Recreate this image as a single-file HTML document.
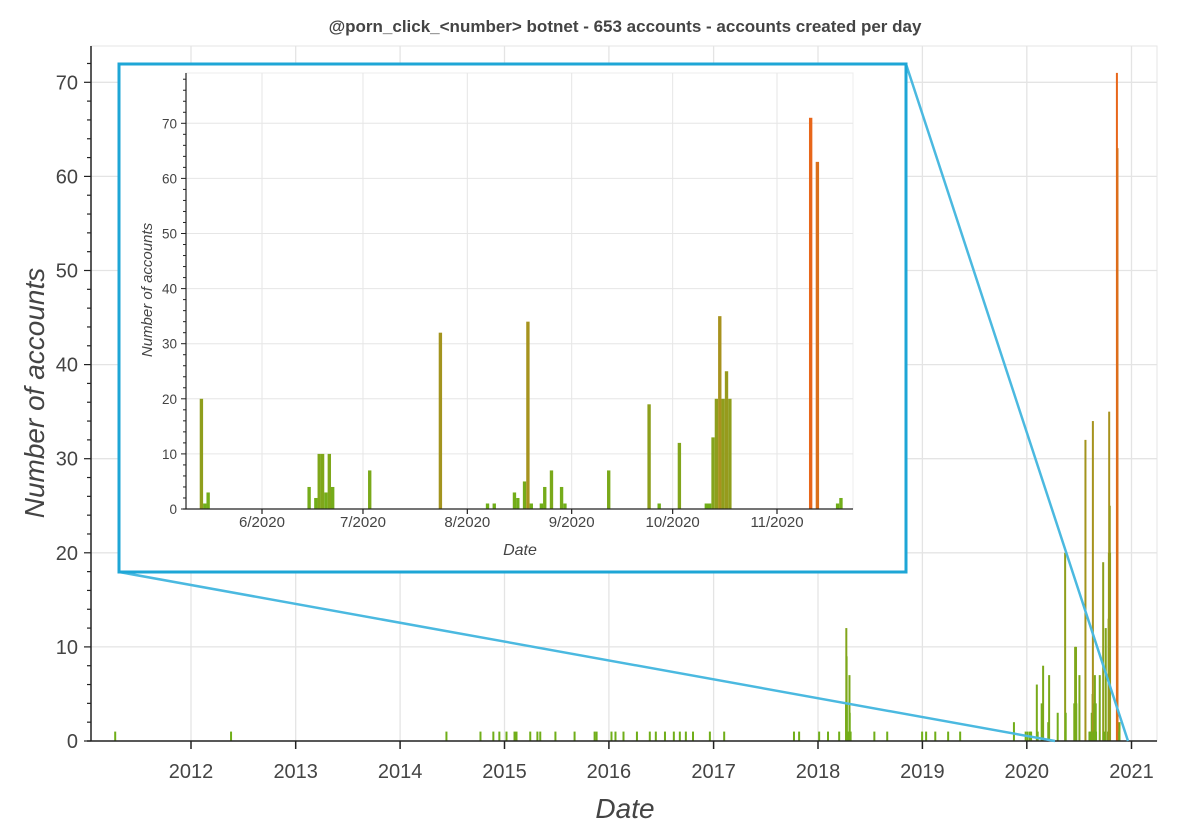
<!DOCTYPE html>
<html><head><meta charset="utf-8">
<style>
html,body{margin:0;padding:0;background:#fff;}
svg{display:block;font-family:"Liberation Sans",sans-serif;}
</style></head>
<body>
<svg id="chart" width="1200" height="833" viewBox="0 0 1200 833" xmlns="http://www.w3.org/2000/svg">
<rect x="0" y="0" width="1200" height="833" fill="#fff"/>
<text x="625" y="32" text-anchor="middle" font-size="17" font-weight="bold" fill="#444">@porn_click_&lt;number&gt; botnet - 653 accounts - accounts created per day</text>
<g id="main"></g>
<g id="inset"></g>
</svg>
<script>
const dates = ["2011-04-11","2012-05-20","2014-06-12","2014-10-09","2014-11-23","2014-12-14","2015-01-08","2015-02-05","2015-02-12","2015-04-01","2015-04-26","2015-05-06","2015-06-28","2015-09-03","2015-11-12","2015-11-19","2016-01-10","2016-01-24","2016-02-21","2016-04-08","2016-05-23","2016-06-13","2016-07-15","2016-08-15","2016-09-05","2016-09-26","2016-10-21","2016-12-19","2017-02-07","2017-10-09","2017-10-27","2018-01-05","2018-02-05","2018-03-16","2018-04-09","2018-04-10","2018-04-11","2018-04-12","2018-04-14","2018-04-19","2018-04-21","2018-04-22","2018-04-25","2018-07-17","2018-08-31","2018-12-31","2019-01-14","2019-02-15","2019-04-01","2019-05-13","2019-11-17","2019-12-28","2020-01-04","2020-01-12","2020-01-16","2020-02-05","2020-02-08","2020-02-22","2020-02-27","2020-03-16","2020-03-19","2020-04-18","2020-05-14","2020-05-15","2020-05-16","2020-06-15","2020-06-17","2020-06-18","2020-06-19","2020-06-20","2020-06-21","2020-06-22","2020-07-03","2020-07-24","2020-08-07","2020-08-09","2020-08-15","2020-08-16","2020-08-18","2020-08-19","2020-08-20","2020-08-23","2020-08-24","2020-08-26","2020-08-29","2020-08-30","2020-09-12","2020-09-24","2020-09-27","2020-10-03","2020-10-11","2020-10-12","2020-10-13","2020-10-14","2020-10-15","2020-10-16","2020-10-17","2020-10-18","2020-11-11","2020-11-13","2020-11-19","2020-11-20"];
const counts = [1,1,1,1,1,1,1,1,1,1,1,1,1,1,1,1,1,1,1,1,1,1,1,1,1,1,1,1,1,1,1,1,1,1,4,12,9,4,1,1,7,3,1,1,1,1,1,1,1,1,2,1,1,1,1,6,1,4,8,2,7,3,20,1,3,4,2,10,10,3,10,4,7,32,1,1,3,2,5,34,1,1,4,7,4,1,7,19,1,12,1,1,13,20,35,20,25,20,71,63,1,2];
const mainYTicks = [0,10,20,30,40,50,60,70];
const mainXTicks = ["2012","2013","2014","2015","2016","2017","2018","2019","2020","2021"];
const insetYTicks = [0,10,20,30,40,50,60,70];
const insetXTicks = ["2020-06-01","2020-07-01","2020-08-01","2020-09-01","2020-10-01","2020-11-01"];
const insetXLabels = ["6/2020","7/2020","8/2020","9/2020","10/2020","11/2020"];

const NS="http://www.w3.org/2000/svg";
function mk(parent,tag,attrs,text){const e=document.createElementNS(NS,tag);for(const k in attrs)e.setAttribute(k,attrs[k]);if(text!==undefined)e.textContent=text;parent.appendChild(e);return e;}
const DAY=86400000;
function dnum(s){return Date.UTC(+s.slice(0,4),+s.slice(5,7)-1,+s.slice(8,10))/DAY;}
const m0=dnum("2012-01-01"), m1=dnum("2021-01-01");
const mx=d=>191+(d-m0)*(1131.5-191)/(m1-m0);
const my=v=>741-v*9.41;
const i0=dnum("2020-06-01"), i1=dnum("2020-11-01");
const ix=d=>262+(d-i0)*(777-262)/(i1-i0);
const iy=v=>509-v*5.51;
function col(v){
  const a=[110,175,25],b=[168,146,30],c=[232,102,26];
  let r;
  if(v<=35){const t=v/35;r=a.map((x,i)=>x+(b[i]-x)*t);}else{const t=Math.min(1,(v-35)/36);r=b.map((x,i)=>x+(c[i]-x)*t);}
  return "rgb("+r.map(Math.round).join(",")+")";
}

// ---- MAIN ----
const G=document.getElementById('main');
const L=91,R=1157,T=46,B=741;
let e;
e=mk(G,'rect',{x:L,y:T,width:R-L,height:B-T,fill:'#fff',stroke:'#e6e6e6'});

mainXTicks.forEach(y=>{const x=mx(dnum(y+"-01-01"));
  e=mk(G,'line',{x1:x,x2:x,y1:T,y2:B,stroke:'#e4e4e4','stroke-width':1.3});
  });
mainYTicks.forEach(v=>{const y=my(v);
  e=mk(G,'line',{x1:L,x2:R,y1:y,y2:y,stroke:'#e4e4e4','stroke-width':1.3});
  });
dates.forEach((d,i)=>{const x=mx(dnum(d)),v=counts[i];
  e=mk(G,'rect',{x:x-1,y:my(v),width:2,height:my(0)-my(v),fill:col(v)});
  });
e=mk(G,'line',{x1:L,x2:L,y1:T,y2:B,stroke:'#222','stroke-width':1.5});
e=mk(G,'line',{x1:L-4,x2:R,y1:B,y2:B,stroke:'#222','stroke-width':1.5});
for(let v=0;v<=72;v+=2){const y=my(v);const major=v%10===0;
  e=mk(G,'line',{x1:L-(major?7:4),x2:L,y1:y,y2:y,stroke:'#222','stroke-width':1.2});
  }
mainYTicks.forEach(v=>{e=mk(G,'text',{x:78,y:my(v)+7,'text-anchor':'end','font-size':20,fill:'#444'},String(v));
  });
mainXTicks.forEach(y=>{const x=mx(dnum(y+"-01-01"));
  e=mk(G,'line',{x1:x,x2:x,y1:B,y2:B+8,stroke:'#222','stroke-width':1.5});
  
  e=mk(G,'text',{x:x,y:778,'text-anchor':'middle','font-size':20,fill:'#444'},y);
  });
e=mk(G,'text',{x:625,y:818,'text-anchor':'middle','font-size':28,'font-style':'italic',fill:'#444'},'Date');

e=mk(G,'text',{x:0,y:0,'text-anchor':'middle','font-size':28,'font-style':'italic',fill:'#444',transform:'translate(44,393) rotate(-90)'},'Number of accounts');

e=mk(G,'line',{x1:119,y1:572,x2:1055,y2:741,stroke:'#4bb9e0','stroke-width':2.5});
e=mk(G,'line',{x1:906,y1:64,x2:1128,y2:741,stroke:'#4bb9e0','stroke-width':2.5});

// ---- INSET ----
const H=document.getElementById('inset');
const iL=186,iR=853,iT=73,iB=509;
e=mk(H,'rect',{x:119,y:64,width:787,height:508,fill:'#fff',stroke:'#1ea6d6','stroke-width':3});

e=mk(H,'rect',{x:iL,y:iT,width:iR-iL,height:iB-iT,fill:'#fff',stroke:'#ececec'});

insetXTicks.forEach(d=>{const x=ix(dnum(d));
  e=mk(H,'line',{x1:x,x2:x,y1:iT,y2:iB,stroke:'#e6e6e6'});
  });
insetYTicks.forEach(v=>{const y=iy(v);
  e=mk(H,'line',{x1:iL,x2:iR,y1:y,y2:y,stroke:'#e6e6e6'});
  });
const pxDay=(777-262)/(i1-i0);
dates.forEach((d,i)=>{const dn=dnum(d);const x=ix(dn);if(x<iL||x>iR)return;const v=counts[i];
  e=mk(H,'rect',{x:x-pxDay/2,y:iy(v),width:pxDay,height:iy(0)-iy(v),fill:col(v)});
  });
e=mk(H,'line',{x1:iL,x2:iL,y1:iT,y2:iB,stroke:'#222','stroke-width':1.2});
e=mk(H,'line',{x1:iL-3,x2:iR,y1:iB,y2:iB,stroke:'#222','stroke-width':1.2});
for(let v=0;v<=78;v+=2){const y=iy(v);const major=v%10===0;
  e=mk(H,'line',{x1:iL-(major?5:3),x2:iL,y1:y,y2:y,stroke:'#222','stroke-width':1});
  }
insetYTicks.forEach(v=>{e=mk(H,'text',{x:177,y:iy(v)+5,'text-anchor':'end','font-size':13.5,fill:'#444'},String(v));
  });
insetXTicks.forEach((d,k)=>{const x=ix(dnum(d));
  e=mk(H,'line',{x1:x,x2:x,y1:iB,y2:iB+5,stroke:'#222','stroke-width':1.2});
  
  e=mk(H,'text',{x:x,y:527,'text-anchor':'middle','font-size':15,fill:'#444'},insetXLabels[k]);
  });
e=mk(H,'text',{x:520,y:555,'text-anchor':'middle','font-size':16,'font-style':'italic',fill:'#444'},'Date');

e=mk(H,'text',{x:0,y:0,'text-anchor':'middle','font-size':15,'font-style':'italic',fill:'#444',transform:'translate(152,290) rotate(-90)'},'Number of accounts');

</script>
</body></html>
